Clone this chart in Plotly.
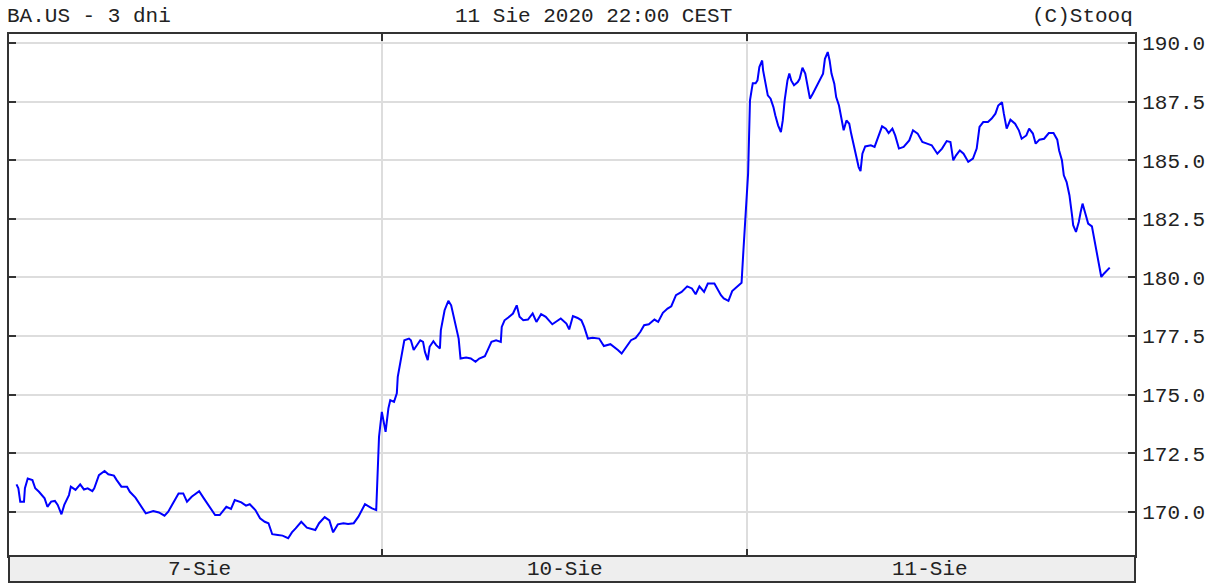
import plotly.graph_objects as go

# minutes since 15:30 CEST on 7 Aug (each session = 390 min, sessions concatenated)
minutes = [
    0, 2, 4, 8, 9, 12, 17, 20, 24, 27, 30, 33, 37, 41, 44, 48, 51, 56, 58, 63,
    68, 72, 76, 81, 83, 88, 94, 98, 104, 107, 112, 118, 121, 127, 130, 134, 138, 146, 152, 158,
    162, 166, 173, 178, 182, 187, 195, 200, 205, 212, 217, 224, 229, 233, 240, 245, 249, 255, 260, 265,
    269, 273, 279, 284, 290, 294, 298, 304, 310, 315, 319, 323, 329, 334, 338, 343, 349, 354, 360, 365,
    369, 372, 379, 384, 385, 387,
    390, 392, 394, 397, 399, 403, 406, 407, 410, 412, 414, 419, 421, 424, 428, 431, 434, 436, 439, 441,
    445, 448, 452, 453, 457, 461, 464, 468, 472, 474, 480, 485, 490, 494, 500, 503, 507, 512, 517, 518,
    521, 525, 530, 534, 537, 541, 546, 551, 555, 560, 565, 572, 578, 581, 587, 590, 594, 599, 603, 606,
    610, 615, 622, 627, 634, 638, 642, 646, 651, 656, 661, 666, 670, 675, 681, 685, 690, 695, 699, 704,
    710, 716, 721, 725, 729, 734, 738, 745, 748, 752, 755, 760, 764, 769, 774,
    776, 781, 782, 783, 785, 786, 789, 791, 793, 796, 797, 800, 802, 805, 808, 810, 813, 816, 818, 820,
    823, 825, 827, 830, 834, 836, 839, 842, 844, 847, 850, 854, 858, 861, 863, 866, 868, 870, 873, 875,
    878, 881, 883, 886, 889, 891, 894, 896, 899, 901, 903, 906, 912, 916, 920, 924, 928, 931, 935, 938,
    942, 947, 953, 957, 962, 967, 972, 977, 983, 988, 993, 997, 1000, 1003, 1007, 1011, 1016, 1021, 1025, 1028,
    1032, 1037, 1041, 1045, 1048, 1052, 1054, 1057, 1061, 1066, 1070, 1073, 1078, 1081, 1085, 1088, 1092, 1097, 1102, 1107,
    1111, 1113, 1116, 1118, 1121, 1124, 1127, 1128, 1131, 1134, 1136, 1138, 1141, 1144, 1148, 1150, 1153, 1156, 1158, 1161,
    1164, 1167,
]

price = [
    171.17, 171.00, 170.43, 170.43, 171.00, 171.42, 171.35, 171.00, 170.85, 170.71, 170.57, 170.21, 170.43, 170.46, 170.29, 169.89, 170.29, 170.71, 171.07, 170.93,
    171.17, 170.95, 171.00, 170.88, 171.00, 171.56, 171.74, 171.60, 171.54, 171.35, 171.07, 171.07, 170.85, 170.60, 170.43, 170.17, 169.93, 170.03, 169.97, 169.83,
    170.00, 170.29, 170.78, 170.78, 170.43, 170.64, 170.88, 170.57, 170.29, 169.86, 169.86, 170.21, 170.12, 170.50, 170.40, 170.26, 170.32, 170.07, 169.72, 169.57,
    169.51, 169.04, 169.01, 168.98, 168.87, 169.12, 169.29, 169.57, 169.32, 169.26, 169.22, 169.51, 169.77, 169.63, 169.12, 169.46, 169.51, 169.48, 169.51, 169.79,
    170.07, 170.32, 170.15, 170.07, 171.11, 173.20,
    174.26, 173.77, 173.41, 174.41, 174.76, 174.69, 175.05, 175.76, 176.40, 176.97, 177.32, 177.39, 177.32, 176.90, 177.11, 177.32, 177.25, 176.82, 176.47, 177.04,
    177.28, 177.11, 176.97, 177.75, 178.60, 179.00, 178.81, 178.03, 177.39, 176.54, 176.58, 176.54, 176.40, 176.54, 176.64, 176.90, 177.25, 177.32, 177.25, 177.89,
    178.17, 178.29, 178.46, 178.81, 178.32, 178.17, 178.20, 178.46, 178.10, 178.43, 178.32, 178.00, 178.15, 178.25, 178.03, 177.78, 178.35, 178.27, 178.17, 177.89,
    177.39, 177.42, 177.39, 177.07, 177.15, 177.04, 176.90, 176.75, 177.04, 177.32, 177.42, 177.68, 177.96, 178.00, 178.20, 178.10, 178.49, 178.67, 178.77, 179.24,
    179.38, 179.62, 179.53, 179.28, 179.62, 179.38, 179.74, 179.74, 179.53, 179.24, 179.10, 179.00, 179.42, 179.59, 179.77,
    181.16, 184.44, 185.99, 187.56, 188.06, 188.29, 188.29, 188.41, 188.98, 189.26, 188.84, 188.27, 187.77, 187.63, 187.27, 186.92, 186.49, 186.20, 186.70, 187.56,
    188.41, 188.70, 188.41, 188.20, 188.34, 188.48, 188.95, 188.70, 188.27, 187.63, 187.84, 188.15, 188.44, 188.70, 189.33, 189.62, 189.26, 188.70, 188.27, 187.70,
    187.34, 186.70, 186.28, 186.70, 186.56, 186.14, 185.64, 185.21, 184.71, 184.54, 185.28, 185.59, 185.64, 185.57, 185.99, 186.45, 186.35, 186.16, 186.35, 186.06,
    185.50, 185.57, 185.85, 186.28, 186.14, 185.78, 185.71, 185.64, 185.28, 185.50, 185.82, 185.78, 185.00, 185.21, 185.42, 185.28, 184.93, 185.07, 185.50, 186.42,
    186.63, 186.63, 186.78, 186.99, 187.34, 187.48, 186.99, 186.35, 186.73, 186.56, 186.28, 185.92, 186.06, 186.35, 186.14, 185.71, 185.88, 185.92, 186.16, 186.16,
    185.88, 185.42, 185.00, 184.36, 184.07, 183.51, 182.58, 182.23, 181.94, 182.37, 182.79, 183.15, 182.73, 182.30, 182.18, 181.73, 181.16, 180.31, 180.02, 180.17,
    180.31, 180.42,
]

day_labels = ["7-Sie", "10-Sie", "11-Sie"]
day_centers = [195, 585, 975]
day_breaks = [390, 780]
y_ticks = [170.0, 172.5, 175.0, 177.5, 180.0, 182.5, 185.0, 187.5, 190.0]

title_left = "BA.US - 3 dni"
title_mid = "11 Sie 2020 22:00 CEST"
title_right = "(C)Stooq"

FONT = "Liberation Mono"
FS = 21
W, H = 1217, 585
L, R, T, B = 7, 82, 34, 29
PH = H - T - B

fig = go.Figure()
fig.add_trace(go.Scatter(
    x=minutes, y=price, mode="lines",
    line=dict(color="#0000ff", width=2),
    hoverinfo="x+y", showlegend=False,
))

axis_line = "#333333"
fig.update_layout(
    width=W, height=H,
    margin=dict(l=L, r=R, t=T, b=B, pad=0),
    paper_bgcolor="white", plot_bgcolor="white",
    font=dict(family=FONT, size=FS, color="#222222"),
    xaxis=dict(
        range=[-8, 1194], tickvals=day_breaks, ticktext=["", ""],
        showgrid=True, gridcolor="#dddddd", gridwidth=2,
        ticks="inside", ticklen=7, tickwidth=2, tickcolor=axis_line,
        showline=True, linecolor=axis_line, linewidth=2, mirror="ticks",
        zeroline=False, showticklabels=False,
    ),
    yaxis=dict(
        range=[168.11, 190.39], side="right",
        tickvals=y_ticks, ticktext=[f"{v:.1f}" for v in y_ticks],
        showgrid=True, gridcolor="#dddddd", gridwidth=2,
        ticks="inside", ticklen=7, tickwidth=2, tickcolor=axis_line,
        showline=True, linecolor=axis_line, linewidth=2, mirror="ticks",
        zeroline=False, ticklabelstandoff=1,
        tickfont=dict(family=FONT, size=FS, color="#222222"),
    ),
)

band_h = 26 / PH
fig.add_shape(type="rect", xref="paper", yref="paper",
              x0=0, x1=1, y0=-band_h, y1=0,
              fillcolor="#eeeeee", line=dict(color=axis_line, width=2), layer="above")

for lab, cx in zip(day_labels, day_centers):
    fig.add_annotation(x=cx, y=-band_h / 2, xref="x", yref="paper",
                       text=lab, showarrow=False, xanchor="center", yanchor="middle",
                       font=dict(family=FONT, size=FS, color="#222222"))

ty = 1 + (T - 17) / PH
fig.add_annotation(x=(3 - L) / (W - L - R), y=ty, xref="paper", yref="paper",
                   text=title_left, showarrow=False, xanchor="left", yanchor="middle",
                   font=dict(family=FONT, size=FS, color="#222222"))
fig.add_annotation(x=(593 - L) / (W - L - R), y=ty, xref="paper", yref="paper",
                   text=title_mid, showarrow=False, xanchor="center", yanchor="middle",
                   font=dict(family=FONT, size=FS, color="#222222"))
fig.add_annotation(x=1.0, y=ty, xref="paper", yref="paper",
                   text=title_right, showarrow=False, xanchor="right", yanchor="middle",
                   font=dict(family=FONT, size=FS, color="#222222"))

fig.write_html("out.html", config={"displayModeBar": False},
               post_script="document.body.style.margin='0';document.body.style.padding='0';")
